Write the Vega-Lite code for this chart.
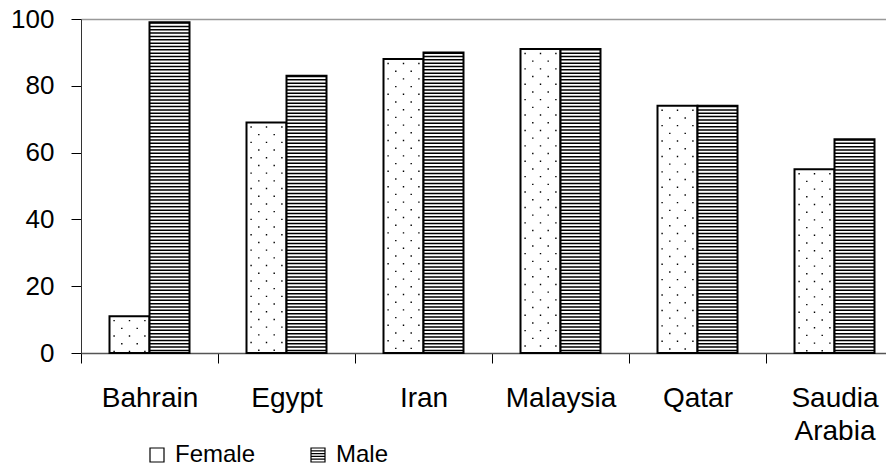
{
  "$schema": "https://vega.github.io/schema/vega-lite/v6.json",
  "width": 805,
  "height": 334,
  "autosize": "none",
  "padding": {"left": 81, "top": 19, "right": 0, "bottom": 117},
  "background": "white",
  "config": {
    "view": {"stroke": null},
    "font": "Liberation Sans",
    "axis": {"labelColor": "black", "labelFont": "Liberation Sans", "title": null}
  },
  "data": {
    "values": [
      {"country": "Bahrain", "sex": "Female", "value": 11},
      {"country": "Bahrain", "sex": "Male", "value": 99},
      {"country": "Egypt", "sex": "Female", "value": 69},
      {"country": "Egypt", "sex": "Male", "value": 83},
      {"country": "Iran", "sex": "Female", "value": 88},
      {"country": "Iran", "sex": "Male", "value": 90},
      {"country": "Malaysia", "sex": "Female", "value": 91},
      {"country": "Malaysia", "sex": "Male", "value": 91},
      {"country": "Qatar", "sex": "Female", "value": 74},
      {"country": "Qatar", "sex": "Male", "value": 74},
      {"country": "Saudia Arabia", "sex": "Female", "value": 55},
      {"country": "Saudia Arabia", "sex": "Male", "value": 64}
    ]
  },
  "encoding": {
    "x": {
      "field": "country",
      "type": "nominal",
      "sort": null,
      "scale": {"range": [0, 822], "paddingInner": 0, "paddingOuter": 0},
      "axis": {
        "labelAngle": 0,
        "labelFontSize": 28,
        "labelPadding": 21,
        "labelLineHeight": 33,
        "labelExpr": "datum.label == 'Saudia Arabia' ? ['Saudia', 'Arabia'] : datum.label",
        "tickBand": "extent",
        "tickSize": 10,
        "tickColor": "black",
        "domainColor": "#555",
        "domainWidth": 1.5
      }
    },
    "y": {
      "field": "value",
      "type": "quantitative",
      "scale": {"domain": [0, 100], "nice": false},
      "axis": {
        "values": [0, 20, 40, 60, 80, 100],
        "labelFontSize": 26,
        "labelPadding": 17,
        "tickSize": 10,
        "tickColor": "black",
        "domainColor": "#333",
        "grid": true,
        "gridColor": "#999",
        "gridWidth": 1.5,
        "gridOpacity": {"condition": {"test": "datum.value === 100", "value": 1}, "value": 0}
      }
    }
  },
  "layer": [
    {
      "mark": {"type": "point", "filled": false, "color": "black", "strokeWidth": 1.2, "size": 100},
      "encoding": {
        "y": {"datum": 5},
        "shape": {
          "field": "sex",
          "type": "nominal",
          "scale": {
            "domain": ["Female", "Male"],
            "range": ["square", "M-1,-1L1,-1L1,1L-1,1Z M-1,-0.6L1,-0.6 M-1,-0.2L1,-0.2 M-1,0.2L1,0.2 M-1,0.6L1,0.6"]
          },
          "legend": {
            "title": null,
            "orient": "none",
            "direction": "horizontal",
            "legendX": 64,
            "legendY": 424,
            "symbolSize": 196,
            "symbolStrokeColor": "black",
            "symbolStrokeWidth": 1.2,
            "symbolOpacity": 1,
            "labelFontSize": 24,
            "labelColor": "black",
            "labelFont": "Liberation Sans",
            "labelOffset": 6,
            "columnPadding": 50,
            "encode": {
              "symbols": {
                "update": {
                  "stroke": {"value": "black"},
                  "strokeWidth": {"value": 1.2},
                  "opacity": {"value": 1},
                  "strokeOpacity": {"value": 1}
                }
              }
            }
          }
        }
      }
    },
    {
      "transform": [{"filter": "datum.sex === 'Female'"}],
      "mark": {"type": "bar", "width": 40, "xOffset": -20, "fill": "white", "stroke": "black", "strokeWidth": 2}
    },
    {
      "transform": [{"filter": "datum.sex === 'Female'"}],
      "encoding": {"y2": {"datum": 0}},
      "layer": [
        {"mark": {"type": "rule", "xOffset": -35.4, "color": "black", "strokeWidth": 1.4, "strokeDash": [1.4, 14], "strokeDashOffset": 11.7}},
        {"mark": {"type": "rule", "xOffset": -27.7, "color": "black", "strokeWidth": 1.4, "strokeDash": [1.4, 14], "strokeDashOffset": 4}},
        {"mark": {"type": "rule", "xOffset": -20, "color": "black", "strokeWidth": 1.4, "strokeDash": [1.4, 14], "strokeDashOffset": 11.7}},
        {"mark": {"type": "rule", "xOffset": -12.3, "color": "black", "strokeWidth": 1.4, "strokeDash": [1.4, 14], "strokeDashOffset": 4}},
        {"mark": {"type": "rule", "xOffset": -4.6, "color": "black", "strokeWidth": 1.4, "strokeDash": [1.4, 14], "strokeDashOffset": 11.7}}
      ]
    },
    {
      "transform": [{"filter": "datum.sex === 'Male'"}],
      "mark": {"type": "bar", "width": 40, "xOffset": 20, "fill": "white", "stroke": null}
    },
    {
      "transform": [{"filter": "datum.sex === 'Male'"}],
      "encoding": {"y2": {"datum": 0}},
      "mark": {"type": "rule", "xOffset": 20, "color": "black", "strokeWidth": 40, "strokeDash": [1.5, 1.84], "strokeCap": "butt"}
    },
    {
      "transform": [{"filter": "datum.sex === 'Male'"}],
      "mark": {"type": "bar", "width": 40, "xOffset": 20, "fill": "white", "fillOpacity": 0, "stroke": "black", "strokeWidth": 2}
    }
  ]
}
